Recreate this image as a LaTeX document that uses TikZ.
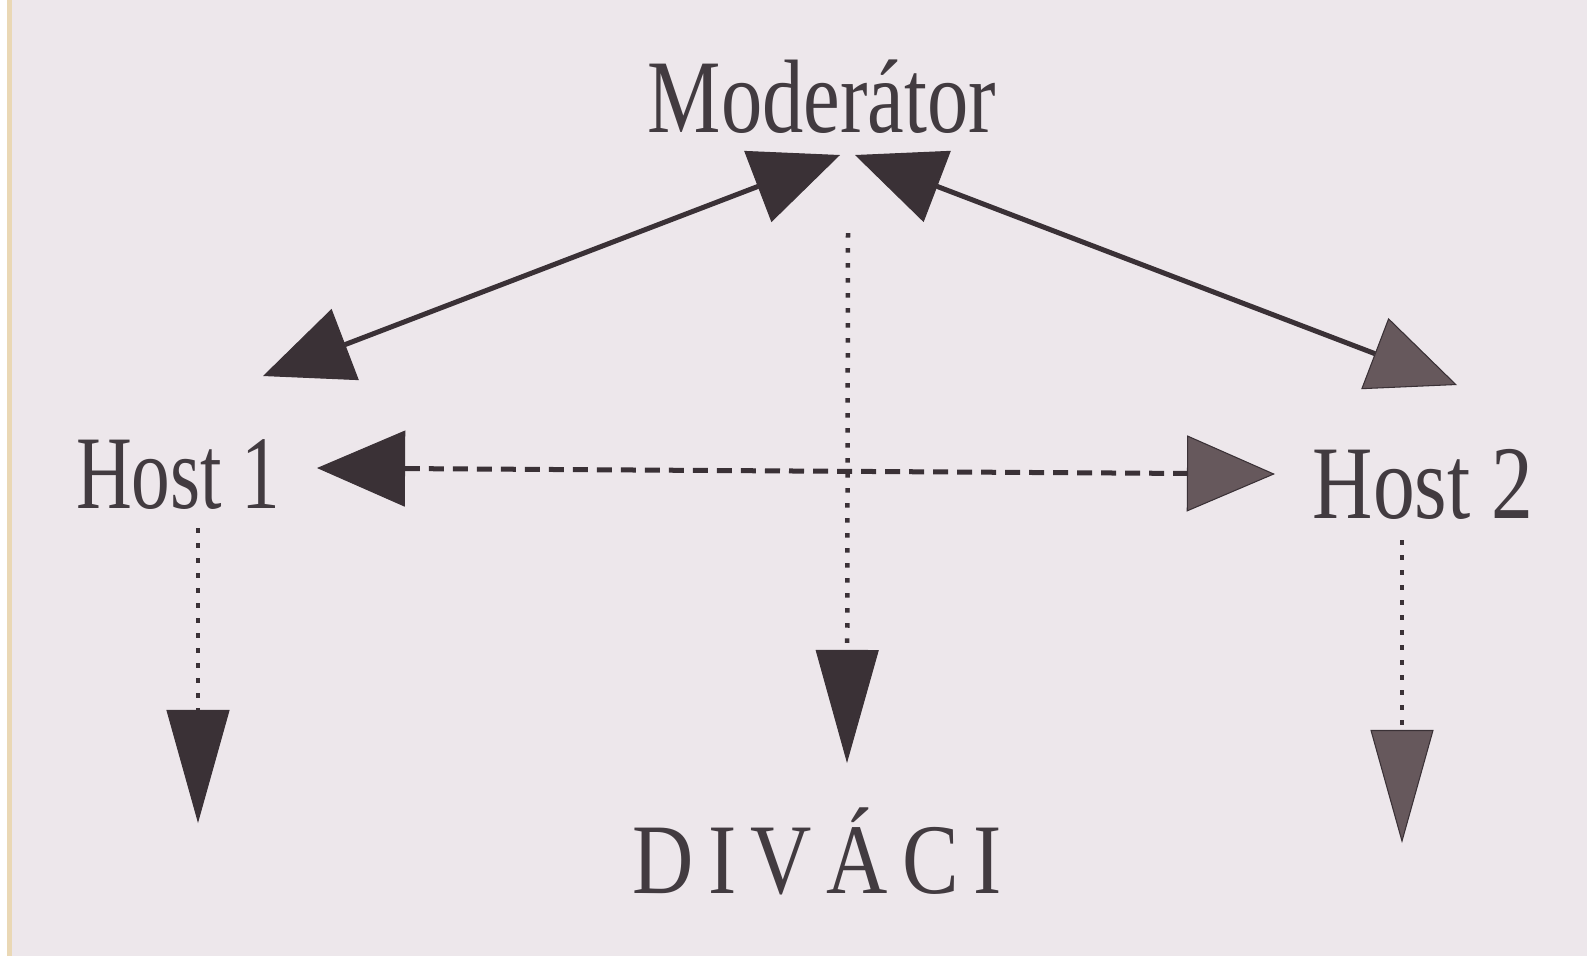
\documentclass[tikz,border=0pt]{standalone}
\usepackage{fontspec}
\setmainfont{Liberation Serif}
\usetikzlibrary{arrows.meta}
\definecolor{bg}{HTML}{EDE7EB}
\definecolor{ink}{HTML}{3A3136}
\definecolor{inkl}{HTML}{66585C}
\definecolor{txt}{HTML}{423B40}
\definecolor{strip}{HTML}{EAD8B5}
\tikzset{
  BigTri/.tip={Triangle[length=8.8mm,width=7.6mm,line width=0.3pt]},
  DownTri/.tip={Triangle[length=11.3mm,width=6.3mm,line width=0.3pt]},
  lbl/.style={inner sep=0pt, text=txt, font=\fontsize{29.7}{32}\selectfont},
  solidconn/.style={draw=ink, line width=0.05cm},
  dashconn/.style={draw=ink, line width=0.05cm, dash pattern=on 1.5mm off 0.9mm},
  dotconn/.style={draw=ink, line width=0.045cm, dash pattern=on 0.45mm off 1.05mm},
}
\begin{document}
\begin{tikzpicture}[x=0.01cm,y=-0.01cm]
  \useasboundingbox (0,0) rectangle (1587,956);
  \fill[bg] (0,0) rectangle (1587,956);
  \fill[white] (0,0) rectangle (7,956);
  \fill[strip] (7,0) rectangle (12,956);

  % labels
  \node[lbl, anchor=base] (mod) at (822,132) {\scalebox{0.79}[1]{Moderátor}};
  \node[lbl, anchor=base] (h1) at (178,508) {\scalebox{0.74}[1]{Host 1}};
  \node[lbl, anchor=base] (h2) at (1423,518) {\scalebox{0.8}[1]{Host 2}};
  \node[lbl, anchor=base, font=\fontsize{28.4}{30}\selectfont] (div) at (817,893)
    {\scalebox{0.85}[1]{D\hspace{0.17cm}I\hspace{0.17cm}V\hspace{0.17cm}Á\hspace{0.17cm}C\hspace{0.17cm}I}};

  % connector end points
  \coordinate (mL) at (840,155);
  \coordinate (mR) at (855,155);
  \coordinate (h1u) at (263,376);
  \coordinate (h2u) at (1457,385);
  \coordinate (h1d) at (317,468);
  \coordinate (h2d) at (1275,474);
  \coordinate (mS) at (848,233);
  \coordinate (dv) at (847,763);
  \coordinate (h1s) at (198,528);
  \coordinate (h1t) at (198,823);
  \coordinate (h2s) at (1402,540);
  \coordinate (h2t) at (1402,843);

  % connectors
  \draw[solidconn, {BigTri[fill=ink]}-{BigTri[fill=ink]}] (h1u) -- (mL);
  \draw[solidconn, {BigTri[fill=ink]}-{BigTri[fill=inkl]}] (mR) -- (h2u);
  \draw[dashconn, {BigTri[fill=ink]}-{BigTri[fill=inkl]}] (h1d) -- (h2d);
  \draw[dotconn, -{DownTri[fill=ink]}] (mS) -- (dv);
  \draw[dotconn, -{DownTri[fill=ink]}] (h1s) -- (h1t);
  \draw[dotconn, -{DownTri[fill=inkl]}] (h2s) -- (h2t);
\end{tikzpicture}
\end{document}
